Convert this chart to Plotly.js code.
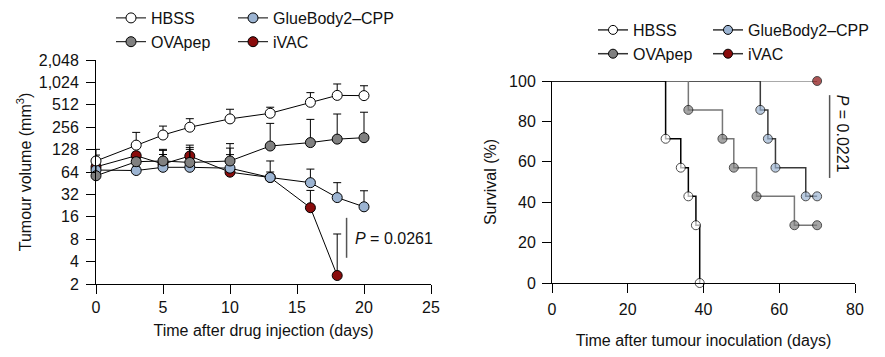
<!DOCTYPE html>
<html>
<head>
<meta charset="utf-8">
<script src="https://cdn.plot.ly/plotly-3.0.1.min.js"></script>
<style>html,body{margin:0;padding:0;background:#fff;}#chart{width:885px;height:357px;}</style>
</head>
<body>
<div id="chart"></div>
<script>
// ---- Left panel: tumour volume ----
const days = [0, 3, 5, 7, 10, 13, 16, 18, 20];
const hbssVol = [90, 147, 201, 256, 331, 394, 553, 685, 680];
const hbssErr = [39, 71, 64, 77, 115, 81, 193, 290, 243];
const ovaVol = [57, 88, 90, 86, 90, 143, 159, 177, 185];
const ovaErr = [51, 12, 39, 51, 64, 145, 167, 208, 222];
const glueVol = [68, 67, 74, 74, 72, 54, 46, 29, 21.8];
const glueErr = [12, 8, 51, 55, 62, 36, 24, 17, 14];
const ivacDays = [0, 3, 5, 7, 10, 13, 16, 18];
const ivacVol = [75, 106, 82, 105, 63.6, 54, 21.2, 2.6];
const ivacErr = [20, 12, 28, 42, 46, 10, 15, 6.8];
const volTicks = [2, 4, 8, 16, 32, 64, 128, 256, 512, 1024, 2048];
const volTickText = ['2', '4', '8', '16', '32', '64', '128', '256', '512', '1,024', '2,048'];

// ---- Right panel: survival ----
const hbssT = [0, 30, 34, 36, 38, 39];
const hbssS = [100, 71.4, 57.1, 42.9, 28.6, 0];
const ovaT = [0, 36, 45, 48, 54, 64, 70];
const ovaS = [100, 85.7, 71.4, 57.1, 42.9, 28.6, 28.6];
const glueT = [0, 55, 57, 59, 67, 70];
const glueS = [100, 85.7, 71.4, 57.1, 42.9, 42.9];
const ivacT = [0, 70];
const ivacS = [100, 100];
const survTicks = [0, 20, 40, 60, 80, 100];
const timeTicks = [0, 20, 40, 60, 80];

const names = {hbss: 'HBSS', ova: 'OVApep', glue: 'GlueBody2\u2013CPP', ivac: 'iVAC'};
const fill = {hbss: '#ffffff', ova: '#808080', glue: '#9cb4d2', ivac: '#8a0c0c'};
const kmLine = {hbss: '#000000', ova: '#777777', glue: '#3a3a3a', ivac: '#8c8c8c'};

function volTrace(key, x, y, err, legend) {
  return {
    type: 'scatter', mode: 'lines+markers', name: names[key], x: x, y: y,
    xaxis: 'x', yaxis: 'y', legend: legend, cliponaxis: false,
    line: {color: '#000', width: 1},
    marker: {size: 10, color: fill[key], line: {color: '#000', width: 1}},
    error_y: {type: 'data', symmetric: false, array: err, arrayminus: err.map(() => 0),
              color: '#000', thickness: 1, width: 4}
  };
}
function kmTrace(key, t, s) {
  return {
    type: 'scatter', mode: 'lines+markers', name: names[key], x: t, y: s,
    xaxis: 'x2', yaxis: 'y2', showlegend: false, cliponaxis: false,
    line: {color: kmLine[key], width: 1.5, shape: 'hv'},
    marker: {size: t.map((v, i) => i === 0 ? 0 : 9), color: fill[key], line: {color: '#000', width: 1}}
  };
}
function kmLegend(key, legend) {
  return {
    type: 'scatter', mode: 'lines+markers', name: names[key], x: [null], y: [null],
    xaxis: 'x2', yaxis: 'y2', legend: legend,
    line: {color: '#333', width: 1.5},
    marker: {size: 9, color: fill[key], line: {color: '#000', width: 1}}
  };
}

const data = [
  volTrace('ivac', ivacDays, ivacVol, ivacErr, 'legend2'),
  volTrace('glue', days, glueVol, glueErr, 'legend2'),
  volTrace('ova', days, ovaVol, ovaErr, 'legend'),
  volTrace('hbss', days, hbssVol, hbssErr, 'legend'),
  kmTrace('ivac', ivacT, ivacS),
  kmTrace('glue', glueT, glueS),
  kmTrace('ova', ovaT, ovaS),
  kmTrace('hbss', hbssT, hbssS),
  kmLegend('ivac', 'legend4'),
  kmLegend('glue', 'legend4'),
  kmLegend('ova', 'legend3'),
  kmLegend('hbss', 'legend3')
];

const font = {family: '"Liberation Sans", Arial, sans-serif', size: 16, color: '#111'};
const axisBase = {showline: true, linecolor: '#000', linewidth: 1, ticks: 'outside', ticklen: 9,
  tickcolor: '#000', tickwidth: 1, showgrid: false, zeroline: false, tickfont: font};
const W = 885, H = 357;
const legBase = {orientation: 'v', bgcolor: 'rgba(0,0,0,0)', font: font, traceorder: 'reversed',
  xanchor: 'left', yanchor: 'top', itemclick: false, tracegroupgap: 0};

const layout = {
  width: W, height: H, margin: {l: 0, r: 0, t: 0, b: 0},
  paper_bgcolor: '#fff', plot_bgcolor: '#fff', font: font, showlegend: true,
  xaxis: Object.assign({}, axisBase, {domain: [96 / W, 431 / W], range: [0, 25], tickvals: [0, 5, 10, 15, 20, 25],
    anchor: 'y', title: {text: 'Time after drug injection (days)', font: font, standoff: 9}}),
  yaxis: Object.assign({}, axisBase, {domain: [(H - 284) / H, (H - 60) / H], type: 'log',
    range: [Math.log10(2), Math.log10(2048)], tickvals: volTicks, ticktext: volTickText, anchor: 'x',
    ticklabelstandoff: 4,
    title: {text: 'Tumour volume (mm<sup>3</sup>)', font: font, standoff: 3}}),
  xaxis2: Object.assign({}, axisBase, {domain: [552 / W, 855 / W], range: [0, 80], tickvals: timeTicks,
    anchor: 'y2', ticklabelstandoff: 3,
    title: {text: 'Time after tumour inoculation (days)', font: font, standoff: 17}}),
  yaxis2: Object.assign({}, axisBase, {domain: [(H - 283) / H, (H - 81) / H], range: [0, 100], tickvals: survTicks,
    anchor: 'x2', ticklabelstandoff: 3,
    title: {text: 'Survival (%)', font: font, standoff: 8}}),
  legend: Object.assign({}, legBase, {x: 111 / W, y: 1.0 - 1 / H}),
  legend2: Object.assign({}, legBase, {x: 233 / W, y: 1.0 - 1 / H}),
  legend3: Object.assign({}, legBase, {x: 593 / W, y: 1.0 - 13 / H}),
  legend4: Object.assign({}, legBase, {x: 708 / W, y: 1.0 - 13 / H}),
  shapes: [
    {type: 'line', xref: 'x', yref: 'y', x0: 18.7, x1: 18.7, y0: 4.5, y1: 15.5, line: {color: '#555', width: 1.5}},
    {type: 'line', xref: 'x2', yref: 'y2', x0: 73.3, x1: 73.3, y0: 52, y1: 93, line: {color: '#555', width: 1.5}}
  ],
  annotations: [
    {xref: 'x', yref: 'y', x: 19.2, y: Math.log10(8.3), text: '<i>P</i> = 0.0261', showarrow: false,
     xanchor: 'left', yanchor: 'middle', font: font},
    {xref: 'x2', yref: 'y2', x: 76.8, y: 74, text: '<i>P</i> = 0.0221', showarrow: false,
     textangle: 90, xanchor: 'center', yanchor: 'middle', font: font}
  ]
};

Plotly.newPlot('chart', data, layout, {staticPlot: true, displayModeBar: false});
</script>
</body>
</html>
